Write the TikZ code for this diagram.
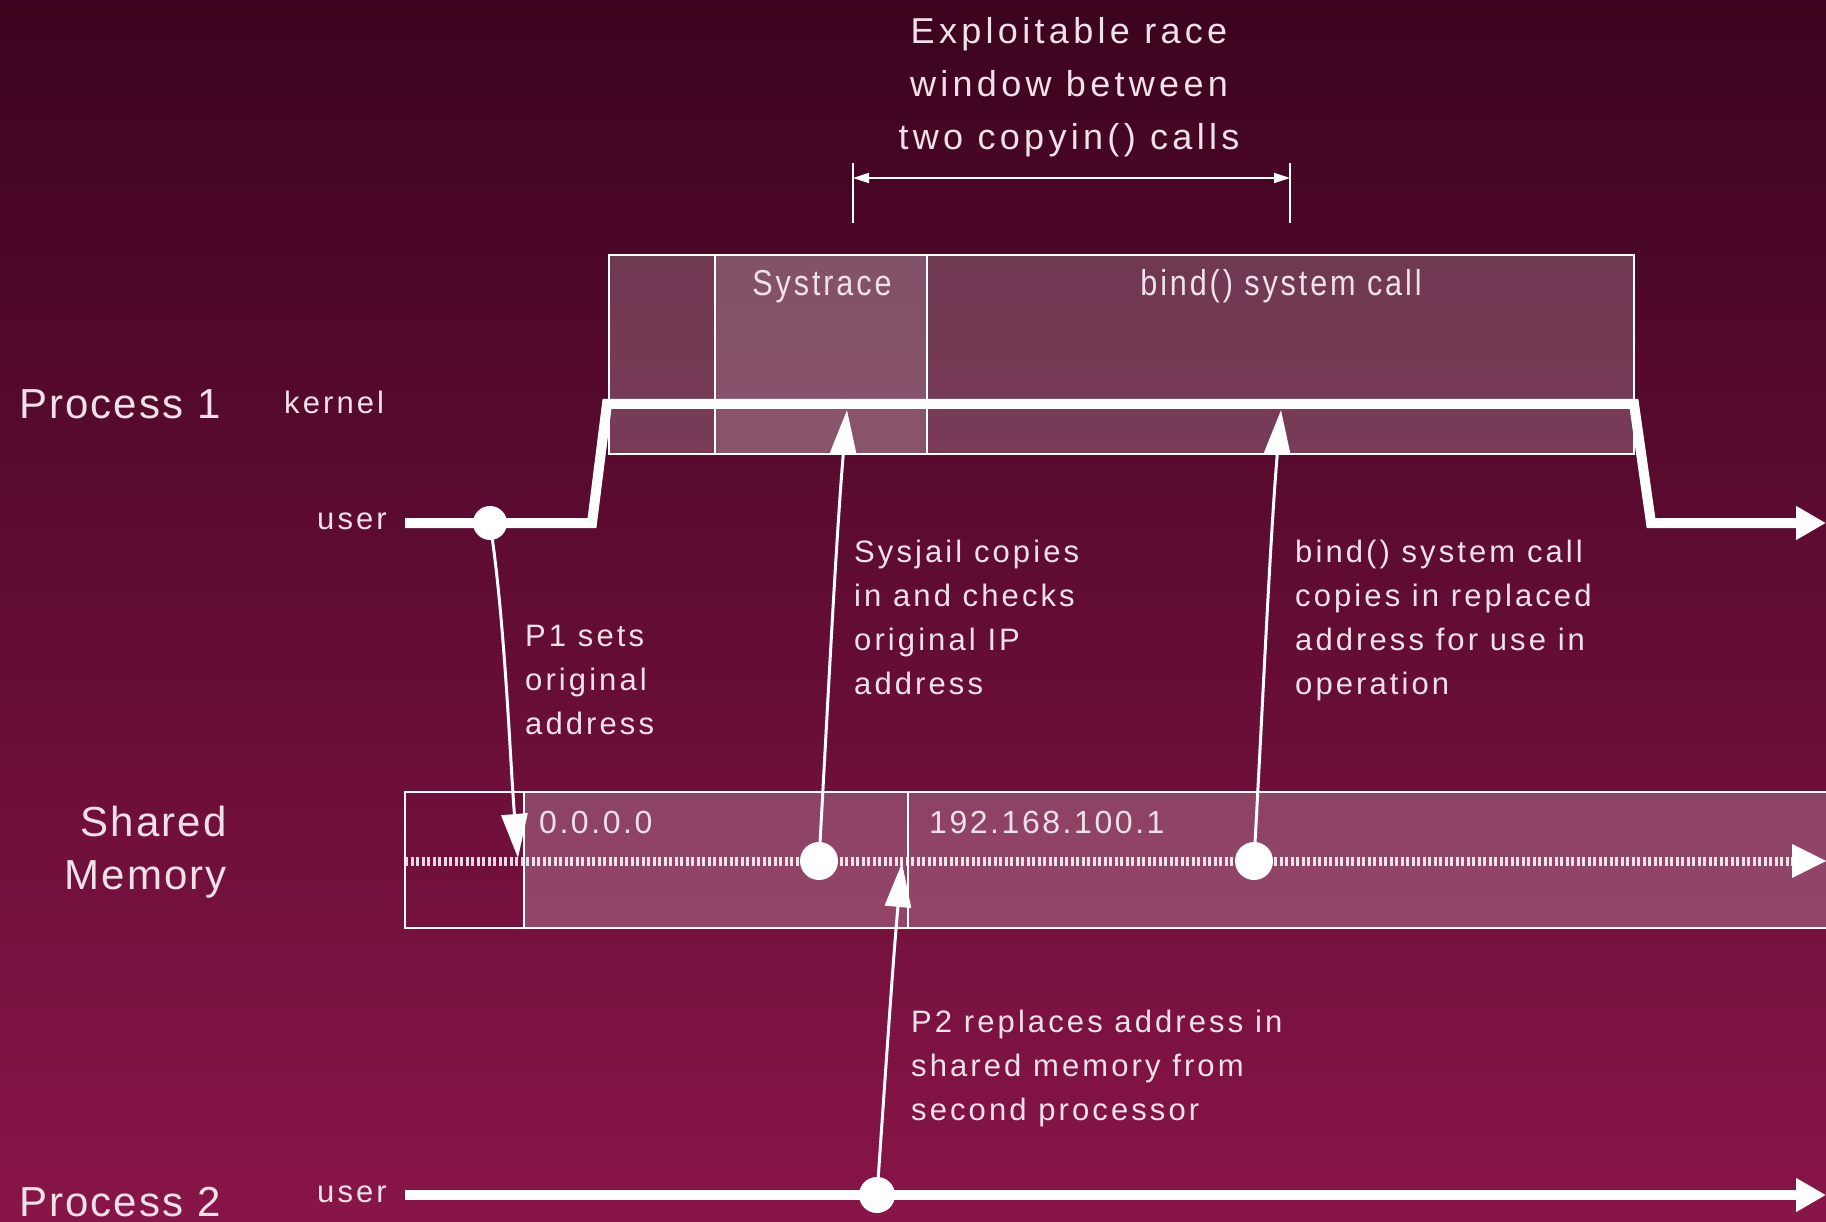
\documentclass[tikz,border=0pt]{standalone}
\usepackage{fontspec}
\setmainfont{Liberation Sans}
\newfontfamily\condfont{Liberation Sans}[FakeStretch=0.85, LetterSpace=8]
\newfontfamily\spfont{Liberation Sans}[LetterSpace=10]
\newfontfamily\bigfont{Liberation Sans}[LetterSpace=5]
\newfontfamily\titfont{Liberation Sans}[LetterSpace=12]
\newfontfamily\addrfont{Liberation Sans}[LetterSpace=8]
\usetikzlibrary{arrows.meta}
\definecolor{bgtop}{RGB}{60,4,30}
\definecolor{bgbot}{RGB}{136,21,72}
\definecolor{txt}{RGB}{240,225,232}
\begin{document}
\begin{tikzpicture}[x=1pt,y=-1pt,
  lbl/.style={inner sep=0pt, text=txt},
  ann/.style={lbl, align=left, anchor=north west, font=\spfont\fontsize{31}{44}\selectfont},
  small/.style={lbl, anchor=west, font=\spfont\fontsize{31}{34}\selectfont},
  big/.style={lbl, font=\bigfont\fontsize{42}{53}\selectfont},
  celltxt/.style={lbl, anchor=base, font=\condfont\fontsize{36}{40}\selectfont},
  addr/.style={lbl, anchor=west, font=\addrfont\fontsize{32}{34}\selectfont},
  cell/.style={draw=white, line width=2pt, fill=white, fill opacity=.2, text opacity=1},
  thickln/.style={draw=white, line width=10pt, line join=miter},
  thinarr/.style={draw=white, line width=3pt, -{Triangle[length=44pt,width=26pt]}},
  dot/.style={circle, fill=white, minimum size=#1, inner sep=0pt},
]
\shade[top color=bgtop, bottom color=bgbot] (0,0) rectangle (1826,1222);
\useasboundingbox (0,0) rectangle (1826,1222);

% title
\node[lbl, align=center, anchor=north, font=\titfont\fontsize{36}{53}\selectfont] (title) at (1069,17)
  {Exploitable race\\window between\\two copyin() calls};
\coordinate (wl) at (853,178);
\coordinate (wr) at (1290,178);
\draw[white, line width=2pt] (853,163) -- (853,223);
\draw[white, line width=2pt] (1290,163) -- (1290,223);
\draw[white, line width=2pt, {Triangle[length=16pt,width=10pt]}-{Triangle[length=16pt,width=10pt]}] (wl) -- (wr);

% kernel cells
\path[cell] (609,255) rectangle (715,454);
\path[cell, fill opacity=.3] (715,255) rectangle (927,454);
\path[cell] (927,255) rectangle (1634,454);
\node[celltxt] (systrace) at (822,296) {Systrace};
\node[celltxt] (bindlbl) at (1281,296) {bind() system call};

% shared memory
\path[draw=white, line width=2pt] (405,792) rectangle (524,928);
\path[cell, fill opacity=.22] (524,792) rectangle (908,928);
\path[cell, fill opacity=.22] (908,792) rectangle (1830,928);
\node[addr] (addr0) at (539,822) {0.0.0.0};
\node[addr] (addr1) at (929,822) {192.168.100.1};
\coordinate (smstart) at (405,861);
\coordinate (smend) at (1826,861);
\draw[white, opacity=.85, line width=9pt, dash pattern=on 3pt off 2.5pt] (smstart) -- (1796,861);
\fill[white] (smend) -- (1792,844) -- (1792,878) -- cycle;

% process 1 line
\coordinate (p1s) at (405,523);
\coordinate (p1e) at (1826,523);
\draw[thickln, -{Triangle[length=30pt,width=32pt]}] (p1s) -- (592,523) -- (607,404) -- (1634,404) -- (1651,523) -- (p1e);

% process 2 line
\coordinate (p2s) at (405,1195);
\coordinate (p2e) at (1826,1195);
\draw[thickln, -{Triangle[length=30pt,width=32pt]}] (p2s) -- (p2e);

% dots
\node[dot=34pt] (d1) at (490,523) {};
\node[dot=38pt] (d2) at (819,861) {};
\node[dot=38pt] (d3) at (1254,861) {};
\node[dot=36pt] (d4) at (877,1195) {};
\coordinate (t1) at (518,858);
\coordinate (t2) at (847,410);
\coordinate (t3) at (1281,410);
\coordinate (t4) at (902,863);

% arrows
\draw[thinarr] (d1.center) .. controls (505,620) and (510,760) .. (t1);
\draw[thinarr] (d2.center) .. controls (828,700) and (836,540) .. (t2);
\draw[thinarr] (d3.center) .. controls (1263,700) and (1270,540) .. (t3);
\draw[thinarr] (d4.center) .. controls (885,1080) and (893,960) .. (t4);

% side labels
\node[big, anchor=west] (proc1) at (19,404) {Process 1};
\node[small] (kern) at (284,402) {kernel};
\node[small] (user1) at (317,521) {user};
\node[big, align=right, anchor=north east] (shm) at (227,806) {Shared\\Memory};
\node[big, anchor=west] (proc2) at (19,1202) {Process 2};
\node[small] (user2) at (317,1194) {user};

% annotations
\node[ann] (a1) at (525,625) {P1 sets\\original\\address};
\node[ann] (a2) at (854,540) {Sysjail copies\\in and checks\\original IP\\address};
\node[ann] (a3) at (1295,540) {bind() system call\\copies in replaced\\address for use in\\operation};
\node[ann] (a4) at (911,1010) {P2 replaces address in\\shared memory from\\second processor};
\end{tikzpicture}
\end{document}
